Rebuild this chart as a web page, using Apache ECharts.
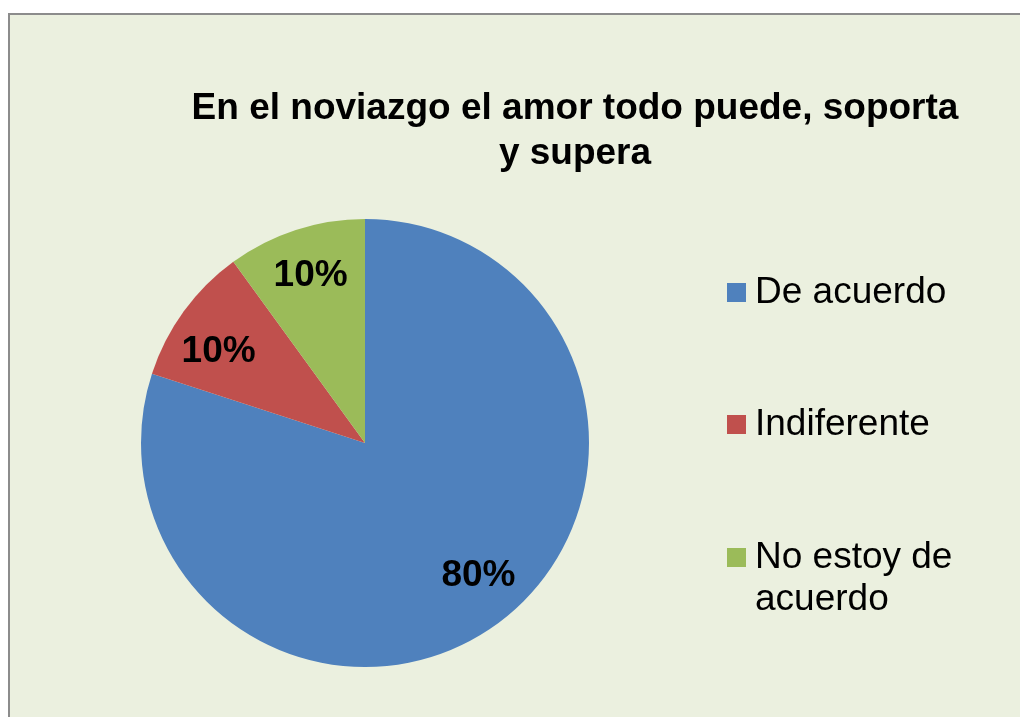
<!DOCTYPE html>
<html>
<head>
<meta charset="utf-8">
<script src="https://cdn.jsdelivr.net/npm/echarts@6/dist/echarts.min.js"></script>
<style>
html,body{margin:0;padding:0;background:#ffffff;}
#chart{width:1020px;height:717px;}
</style>
</head>
<body>
<div id="chart"></div>
<script>
const titleText = 'En el noviazgo el amor todo puede, soporta\ny supera';
const categories = ['De acuerdo', 'Indiferente', 'No estoy de acuerdo'];
const legendLabels = ['De acuerdo', 'Indiferente', '\nNo estoy de\nacuerdo'];
const values = [80, 10, 10];
const colors = ['#4F81BD', '#C0504D', '#9BBB59'];

const FONT = '"Liberation Sans", Arial, sans-serif';
const labelOffsets = [[10, -10], [-4, 12], [0, 0]];
const legendTops = [269, 401, 492];

const chart = echarts.init(document.getElementById('chart'), null, {renderer: 'canvas'});

const mainData = categories.map((c, i) => ({
  name: c, value: values[i], itemStyle: {color: colors[i]}
}));
const labelData = categories.map((c, i) => ({
  name: c, value: values[i],
  label: {offset: labelOffsets[i]}
}));

const legends = categories.map((c, i) => ({
  orient: 'vertical',
  left: 727,
  top: legendTops[i],
  padding: 0,
  icon: 'rect',
  itemWidth: 19,
  itemHeight: 19,
  selectedMode: false,
  data: [{name: c, itemStyle: {color: colors[i]}}],
  formatter: () => legendLabels[i],
  textStyle: {
    fontFamily: FONT, fontSize: 37, color: '#000', lineHeight: 42,
    padding: [5, 0, 0, 4]
  }
}));

chart.setOption({
  backgroundColor: '#ffffff',
  animation: false,
  graphic: [{
    type: 'rect', z: -10, silent: true,
    shape: {x: 9, y: 14, width: 1200, height: 900},
    style: {fill: '#EBF0DF', stroke: '#8c8c8c', lineWidth: 2}
  }],
  title: {
    text: titleText,
    left: 575, top: 86, padding: 0,
    textAlign: 'center',
    textStyle: {fontFamily: FONT, fontSize: 37, fontWeight: 'bold', color: '#000', lineHeight: 45}
  },
  legend: legends,
  series: [{
    type: 'pie',
    center: [365, 443],
    radius: 224,
    startAngle: 90,
    clockwise: true,
    silent: true,
    label: {show: false},
    labelLine: {show: false},
    itemStyle: {borderWidth: 0},
    data: mainData
  }, {
    type: 'pie',
    center: [365, 443],
    radius: [150, 196],
    startAngle: 90,
    clockwise: true,
    silent: true,
    legendHoverLink: false,
    itemStyle: {color: 'rgba(0,0,0,0)', borderWidth: 0},
    label: {
      show: true, position: 'inside',
      formatter: '{c}%',
      fontFamily: FONT, fontSize: 37, fontWeight: 'bold', color: '#000'
    },
    labelLine: {show: false},
    data: labelData
  }]
});
</script>
</body>
</html>
